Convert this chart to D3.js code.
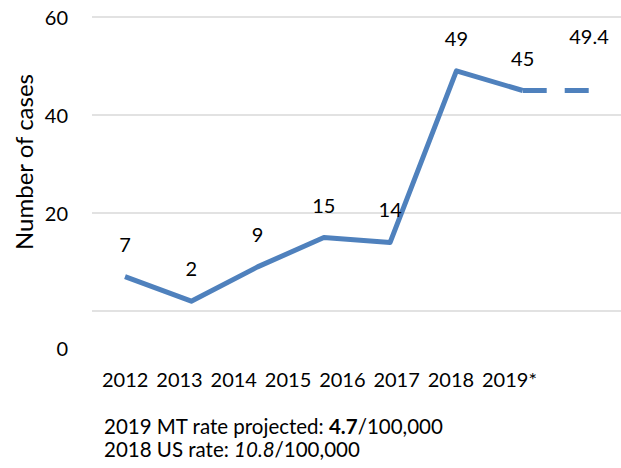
<!DOCTYPE html>
<html>
<head>
<meta charset="utf-8">
<script src="https://cdn.jsdelivr.net/npm/d3@7"></script>
<style>
  body { margin: 0; background: #fff; }
  text { font-family: Lato, "Open Sans", sans-serif; fill: #000; }
</style>
</head>
<body>
<div id="chart"></div>
<script>
// data
var years = ["2012", "2013", "2014", "2015", "2016", "2017", "2018", "2019*"];
var cases = [7, 2, 9, 15, 14, 49, 45];          // solid line
var projected = [45, 45];                        // dashed part, last two slots
var pointLabels = ["7", "2", "9", "15", "14", "49", "45", "49.4"];
var labelValues = [7, 2, 9, 15, 14, 49, 45, 49.4];
var yTicks = [0, 20, 40, 60];

var width = 621, height = 468;

var svg = d3.select("#chart")
  .append("svg")
  .attr("width", width)
  .attr("height", height);

// scales
var y = d3.scaleLinear().domain([0, 60]).range([311, 17]);
var x = d3.scalePoint().domain(d3.range(8)).range([125, 589]);
// the year row sits on its own spacing in the picture
var xl = d3.scalePoint().domain(years).range([102, 482]);

// gridlines
svg.append("g")
  .selectAll("line")
  .data(yTicks)
  .enter()
  .append("line")
  .attr("x1", 92)
  .attr("x2", width)
  .attr("y1", function(d) { return y(d); })
  .attr("y2", function(d) { return y(d); })
  .attr("stroke", "#d9d9d9")
  .attr("stroke-width", 1.6);

// y axis labels
var yAxis = svg.append("g")
  .attr("transform", "translate(70,0)")
  .call(d3.axisLeft(y).tickValues(yTicks).tickSize(0).tickPadding(2));
yAxis.select(".domain").remove();
yAxis.selectAll("text")
  .style("font-family", "Lato, sans-serif")
  .style("font-size", "20px")
  .attr("fill", "#000")
  .attr("dy", function(d) { return d === 0 ? "2.2em" : "0.35em"; });

// y axis title
svg.append("text")
  .attr("transform", "translate(33,162) rotate(-90)")
  .attr("text-anchor", "middle")
  .style("font-size", "24px")
  .text("Number of cases");

// year labels
svg.append("g")
  .selectAll("text")
  .data(years)
  .enter()
  .append("text")
  .attr("x", function(d) { return xl(d); })
  .attr("y", 387)
  .style("font-size", "20px")
  .text(function(d) { return d; });

// lines
var line = d3.line()
  .x(function(d) { return x(d.i); })
  .y(function(d) { return y(d.v); });

svg.append("path")
  .datum(cases.map(function(v, i) { return {i: i, v: v}; }))
  .attr("d", line)
  .attr("fill", "none")
  .attr("stroke", "#4f81bd")
  .attr("stroke-width", 5)
  .attr("stroke-linejoin", "round");

svg.append("path")
  .datum(projected.map(function(v, i) { return {i: i + 6, v: v}; }))
  .attr("d", line)
  .attr("fill", "none")
  .attr("stroke", "#4f81bd")
  .attr("stroke-width", 5)
  .attr("stroke-dasharray", "24,18");

// data labels
svg.append("g")
  .selectAll("text")
  .data(pointLabels)
  .enter()
  .append("text")
  .attr("x", function(d, i) { return x(i); })
  .attr("y", function(d, i) { return y(labelValues[i]) - 25; })
  .attr("text-anchor", "middle")
  .style("font-size", "20px")
  .text(function(d) { return d; });

// notes under the chart
var n1 = svg.append("text").attr("x", 104).attr("y", 434).style("font-size", "20.5px");
n1.append("tspan").text("2019 MT rate projected: ");
n1.append("tspan").style("font-weight", "bold").text("4.7");
n1.append("tspan").text("/100,000");

var n2 = svg.append("text").attr("x", 104).attr("y", 457).style("font-size", "20.5px");
n2.append("tspan").text("2018 US rate: ");
n2.append("tspan").style("font-style", "italic").text("10.8");
n2.append("tspan").text("/100,000");
</script>
</body>
</html>
